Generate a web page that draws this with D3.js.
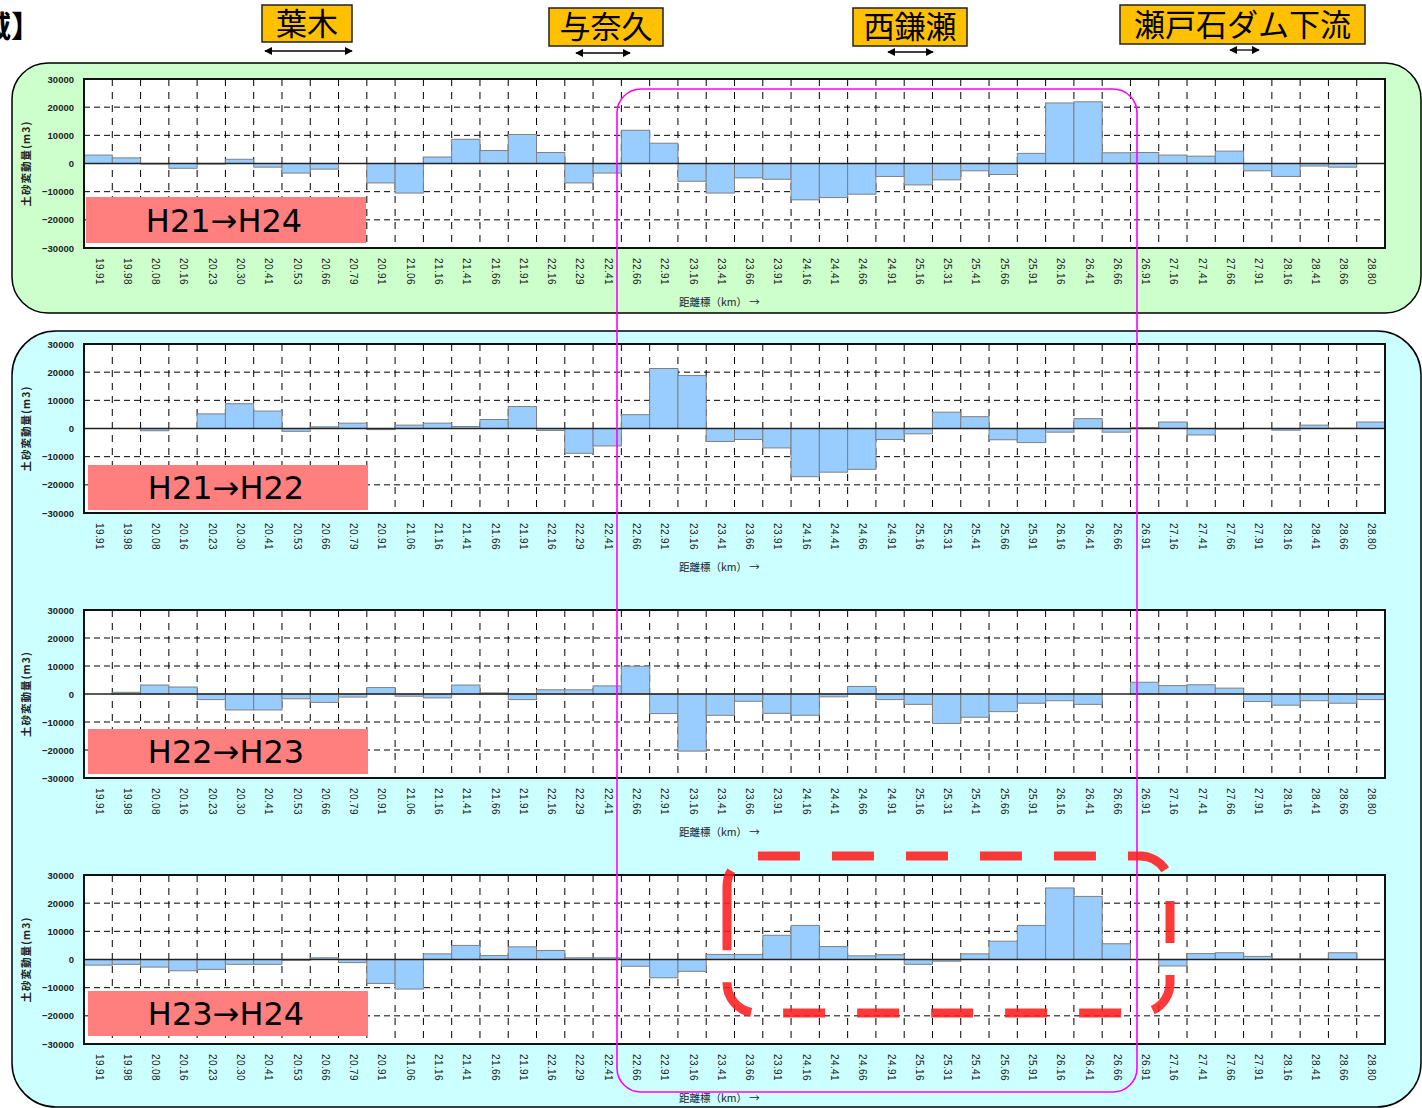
<!DOCTYPE html>
<html lang="ja">
<head>
<meta charset="utf-8">
<title>土砂変動量</title>
<script src="https://cdn.jsdelivr.net/npm/d3@7"></script>
<style>
  html, body { margin: 0; padding: 0; background: #ffffff; }
  svg { display: block; }
</style>
</head>
<body>
<svg id="chart" width="1422" height="1108"></svg>
<script>
// 距離標 (km)
const categories = [
  "19.91","19.98","20.08","20.16","20.23","20.30","20.41","20.53","20.66","20.79",
  "20.91","21.06","21.16","21.41","21.66","21.91","22.16","22.29","22.41","22.66",
  "22.91","23.16","23.41","23.66","23.91","24.16","24.41","24.66","24.91","25.16",
  "25.31","25.41","25.66","25.91","26.16","26.41","26.66","26.91","27.16","27.41",
  "27.66","27.91","28.16","28.41","28.66","28.80"
];

// 土砂変動量 (m3)
const changeH21H24 = [
  3000, 2000, -200, -1700, -200, 1500, -1300, -3400, -2000, 0,
  -6900, -10500, 2300, 8600, 4600, 10300, 3900, -6900, -3400, 11800,
  7200, -6300, -10500, -5100, -5600, -12900, -12100, -10900, -4600, -7600,
  -5800, -2600, -3900, 3600, 21500, 21900, 3800, 3900, 3000, 2600,
  4400, -2600, -4600, -900, -1300, null
];
const changeH21H22 = [
  0, 0, -800, 0, 5200, 8800, 6200, -1000, 600, 1900,
  -400, 1200, 1900, 700, 3200, 7800, -700, -8800, -6200, 4900,
  21300, 18800, -4600, -3900, -6900, -17100, -15500, -14500, -3900, -1900,
  5800, 4200, -4000, -5000, -1300, 3500, -1300, 300, 2300, -2300,
  -200, 0, -600, 1200, 100, 2300
];
const changeH22H23 = [
  0, 600, 3200, 2500, -2000, -5700, -5700, -1700, -3000, -1100,
  2300, -800, -1400, 3200, 400, -2000, 1500, 1500, 2900, 9900,
  -7000, -20400, -7600, -2600, -6900, -7600, -1000, 2700, -2000, -3700,
  -10500, -8300, -6300, -3300, -2400, -3700, 0, 4200, 3000, 3300,
  2100, -2700, -4000, -2400, -3300, -2000
];
const changeH23H24 = [
  -2000, -1700, -2700, -4000, -3500, -1700, -1700, -300, 600, -1100,
  -8500, -10500, 2000, 5000, 1400, 4500, 3200, 600, 600, -2400,
  -6500, -4200, 1800, 1800, 8600, 12100, 4600, 1300, 1700, -1700,
  -600, 2000, 6500, 12100, 25400, 22400, 5600, 0, -2300, 2100,
  2400, 1100, 200, 200, 2400, null
];

const seriesList = [changeH21H24, changeH21H22, changeH22H23, changeH23H24];
const periodLabels = ["H21→H24", "H21→H22", "H22→H23", "H23→H24"];
const yTicks = [30000, 20000, 10000, 0, -10000, -20000, -30000];
const yGridValues = [20000, 10000, -10000, -20000];
const yDomain = [-30000, 30000];
const yAxisTitle = "土砂変動量(m3)";
const xAxisTitle = "距離標（km）  →";

// 区間名 (見出しボックス)
const sectionNames = ["葉木", "与奈久", "西鎌瀬", "瀬戸石ダム下流"];

const svg = d3.select("#chart");
const NUM_FONT = "'Liberation Sans', Arial, sans-serif";
const JP_FONT = "'Noto Sans CJK JP', 'Noto Sans', sans-serif";

// ---- background panels ----
svg.append("rect")
  .attr("x", 12).attr("y", 63).attr("width", 1409).attr("height", 250)
  .attr("rx", 36).attr("ry", 36)
  .attr("fill", "#ccffcc").attr("stroke", "#000").attr("stroke-width", 1.5);

svg.append("rect")
  .attr("x", 12).attr("y", 331).attr("width", 1409).attr("height", 776)
  .attr("rx", 44).attr("ry", 44)
  .attr("fill", "#ccffff").attr("stroke", "#000").attr("stroke-width", 1.5);

// ---- header: title fragment and section boxes ----
svg.append("text")
  .attr("x", 41).attr("y", 37)
  .attr("text-anchor", "end")
  .attr("font-family", JP_FONT).attr("font-weight", "bold")
  .attr("font-size", 30).attr("fill", "#000")
  .text("区域】");

const sectionBoxes = [
  { box: [262, 5, 90, 37], arrow: [265, 352, 51] },
  { box: [549, 8, 114, 38], arrow: [576, 630, 53] },
  { box: [853, 8, 114, 38], arrow: [888, 933, 52] },
  { box: [1120, 5, 245, 39], arrow: [1230, 1259, 50] }
];

const defs = svg.append("defs");
defs.append("marker")
  .attr("id", "arrowHead")
  .attr("viewBox", "0 0 10 10")
  .attr("refX", 9).attr("refY", 5)
  .attr("markerWidth", 8).attr("markerHeight", 8)
  .attr("markerUnits", "userSpaceOnUse")
  .attr("orient", "auto-start-reverse")
  .append("path").attr("d", "M0,0 L10,5 L0,10 z").attr("fill", "#000");

sectionNames.forEach((name, i) => {
  const s = sectionBoxes[i];
  const g = svg.append("g");
  g.append("rect")
    .attr("x", s.box[0]).attr("y", s.box[1])
    .attr("width", s.box[2]).attr("height", s.box[3])
    .attr("fill", "#ffc000").attr("stroke", "#222").attr("stroke-width", 1.5);
  g.append("text")
    .attr("x", s.box[0] + s.box[2] / 2)
    .attr("y", s.box[1] + s.box[3] / 2)
    .attr("dy", "0.36em")
    .attr("text-anchor", "middle")
    .attr("font-family", JP_FONT)
    .attr("font-size", 31)
    .attr("fill", "#000")
    .text(name);
  g.append("line")
    .attr("x1", s.arrow[0]).attr("x2", s.arrow[1])
    .attr("y1", s.arrow[2]).attr("y2", s.arrow[2])
    .attr("stroke", "#000").attr("stroke-width", 1.3)
    .attr("marker-start", "url(#arrowHead)")
    .attr("marker-end", "url(#arrowHead)");
});

// ---- bar charts ----
const plotLeft = 84, plotRight = 1385;
const plotFrames = [
  { top: 79, bottom: 248, label: [86, 197, 280, 46] },
  { top: 344, bottom: 513, label: [88, 465, 280, 45] },
  { top: 610, bottom: 778, label: [88, 729, 280, 45] },
  { top: 875, bottom: 1044, label: [88, 991, 280, 45] }
];

const x = d3.scaleBand().domain(categories).range([plotLeft, plotRight]).padding(0);

seriesList.forEach((values, pi) => {
  const f = plotFrames[pi];
  const y = d3.scaleLinear().domain(yDomain).range([f.bottom, f.top]);
  const g = svg.append("g");

  // plot area
  g.append("rect")
    .attr("x", plotLeft).attr("y", f.top)
    .attr("width", plotRight - plotLeft).attr("height", f.bottom - f.top)
    .attr("fill", "#ffffff");

  // horizontal gridlines
  g.selectAll(".hgrid").data(yGridValues).join("line")
    .attr("x1", plotLeft).attr("x2", plotRight)
    .attr("y1", d => y(d)).attr("y2", d => y(d))
    .attr("stroke", "#000").attr("stroke-width", 1)
    .attr("stroke-dasharray", "6 4");

  // vertical gridlines at category boundaries
  const bounds = categories.slice(1).map(c => x(c));
  g.selectAll(".vgrid").data(bounds).join("line")
    .attr("x1", d => d).attr("x2", d => d)
    .attr("y1", f.top).attr("y2", f.bottom)
    .attr("stroke", "#000").attr("stroke-width", 1)
    .attr("stroke-dasharray", "7 6");

  // bars
  const rows = categories.map((c, i) => ({ c, v: values[i] }))
    .filter(d => d.v !== null && d.v !== 0);
  g.selectAll(".bar").data(rows).join("rect")
    .attr("x", d => x(d.c))
    .attr("width", x.bandwidth())
    .attr("y", d => y(Math.max(0, d.v)))
    .attr("height", d => Math.abs(y(d.v) - y(0)))
    .attr("fill", "#99ccff")
    .attr("stroke", "#808080").attr("stroke-width", 1);

  // zero line
  g.append("line")
    .attr("x1", plotLeft).attr("x2", plotRight)
    .attr("y1", y(0)).attr("y2", y(0))
    .attr("stroke", "#222").attr("stroke-width", 1.5);

  // period label
  g.append("rect")
    .attr("x", f.label[0]).attr("y", f.label[1])
    .attr("width", f.label[2]).attr("height", f.label[3])
    .attr("fill", "#ff7f7f");
  g.append("text")
    .attr("x", f.label[0] + f.label[2] / 2 - 2)
    .attr("y", f.label[1] + f.label[3] / 2)
    .attr("dy", "0.36em")
    .attr("text-anchor", "middle")
    .attr("font-family", "'DejaVu Sans', sans-serif")
    .attr("font-size", 32)
    .attr("fill", "#000")
    .text(periodLabels[pi]);

  // plot border
  g.append("rect")
    .attr("x", plotLeft).attr("y", f.top)
    .attr("width", plotRight - plotLeft).attr("height", f.bottom - f.top)
    .attr("fill", "none").attr("stroke", "#111").attr("stroke-width", 2);

  // y axis
  const yAxis = g.append("g")
    .attr("transform", `translate(${plotLeft},0)`)
    .call(d3.axisLeft(y).tickValues(yTicks).tickSize(0).tickPadding(10).tickFormat(d3.format("d")));
  yAxis.select(".domain").remove();
  yAxis.selectAll("text")
    .attr("font-family", NUM_FONT).attr("font-size", 9.5)
    .attr("font-weight", "bold").attr("fill", "#222");

  // x axis
  const xAxis = g.append("g")
    .attr("transform", `translate(0,${f.bottom})`)
    .call(d3.axisBottom(x).tickSize(0));
  xAxis.select(".domain").remove();
  xAxis.selectAll("text")
    .attr("transform", "rotate(90)")
    .attr("x", 10).attr("y", -1).attr("dy", "0.35em")
    .style("text-anchor", "start")
    .attr("font-family", NUM_FONT).attr("font-size", 10)
    .attr("letter-spacing", 0.4)
    .attr("fill", "#222");

  // axis titles
  g.append("text")
    .attr("transform", `translate(30,${(f.top + f.bottom) / 2}) rotate(-90)`)
    .attr("text-anchor", "middle")
    .attr("font-family", JP_FONT).attr("font-size", 10.5).attr("font-weight", "bold")
    .attr("letter-spacing", 1)
    .attr("fill", "#222")
    .text(yAxisTitle);
  g.append("text")
    .attr("x", 679).attr("y", f.bottom + 58)
    .attr("font-family", JP_FONT).attr("font-size", 10.5)
    .attr("fill", "#222")
    .text(xAxisTitle);
});

// ---- highlighted ranges ----
svg.append("rect")
  .attr("x", 617).attr("y", 89).attr("width", 520).attr("height", 1003)
  .attr("rx", 24).attr("ry", 24)
  .attr("fill", "none").attr("stroke", "#ff00ff").attr("stroke-width", 1.6);

// dashed rounded outline, drawn clockwise from the left side
const rx0 = 727, ry0 = 856, rx1 = 1170, ry1 = 1013, rr = 30;
const dashPath = d3.path();
dashPath.moveTo(rx0, 912);
dashPath.lineTo(rx0, ry0 + rr);
dashPath.arcTo(rx0, ry0, rx0 + rr, ry0, rr);
dashPath.lineTo(rx1 - rr, ry0);
dashPath.arcTo(rx1, ry0, rx1, ry0 + rr, rr);
dashPath.lineTo(rx1, ry1 - rr);
dashPath.arcTo(rx1, ry1, rx1 - rr, ry1, rr);
dashPath.lineTo(rx0 + rr, ry1);
dashPath.arcTo(rx0, ry1, rx0, ry1 - rr, rr);
dashPath.lineTo(rx0, 912);
svg.append("path")
  .attr("d", dashPath.toString())
  .attr("fill", "none")
  .attr("stroke", "rgba(255,30,30,0.88)")
  .attr("stroke-width", 9)
  .attr("stroke-dasharray", "42 32");
</script>
</body>
</html>
